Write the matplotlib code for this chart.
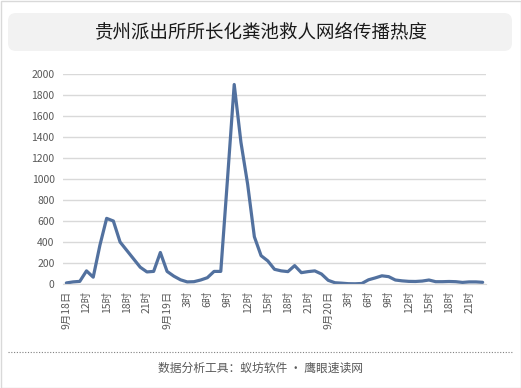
#hourly spread heat of the Guizhou police story, 9/18 9h -> 9/20 23h
import matplotlib
matplotlib.use('Agg')
import matplotlib.pyplot as plt
from matplotlib.patches import FancyBboxPatch, Rectangle
from matplotlib.lines import Line2D
from matplotlib.transforms import IdentityTransform

plt.rcParams['font.family'] = ['Noto Sans CJK SC', 'DejaVu Sans']

title = '贵州派出所所长化粪池救人网络传播热度'
footer = '数据分析工具：蚁坊软件 · 鹰眼速读网'

#one value per hour, 63 hours
heat = [10, 20, 25, 125, 65, 370, 625, 600, 400, 320, 240, 160, 115, 120, 300,
        120, 75, 40, 20, 22, 38, 60, 120, 120, 1000, 1900, 1350, 950, 450, 270,
        220, 140, 125, 118, 175, 108, 118, 125, 95, 35, 12, 8, 3, 2, 5,
        40, 58, 78, 70, 38, 30, 25, 24, 28, 38, 22, 22, 24, 22, 15,
        20, 20, 16]

tick_labels = ['9月18日', '12时', '15时', '18时', '21时',
               '9月19日', '3时', '6时', '9时', '12时', '15时', '18时', '21时',
               '9月20日', '3时', '6时', '9时', '12时', '15时', '18时', '21时']
y_ticks = list(range(0, 2001, 200))

W, H = 521, 388
fig = plt.figure(figsize=(W / 100, H / 100), dpi=100)

#outer border
fig.patches.append(Rectangle((0.5, 0.5), W - 1, H - 1, transform=IdentityTransform(),
                             facecolor='none', edgecolor='#d9d9d9', lw=1))
#title box
fig.patches.append(FancyBboxPatch((8, H - 51), 504, 38, boxstyle='round,pad=0,rounding_size=8',
                                  transform=IdentityTransform(), facecolor='#f2f2f2',
                                  edgecolor='none'))
fig.text(261 / W, 1 - 32 / H, title, ha='center', va='center', fontsize=13.3, color='#1a1a1a')

ax = fig.add_axes([63 / W, 1 - 284 / H, 423 / W, 210 / H])
x = list(range(len(heat)))
ax.plot(x, heat, color='#52719f', lw=2.3, solid_joinstyle='round', solid_capstyle='round')
ax.set_xlim(-0.5, len(heat) - 0.5)
ax.set_ylim(0, 2000)
ax.set_yticks(y_ticks)
ax.set_yticklabels([str(v) for v in y_ticks])
ax.set_xticks(x[::3])
ax.set_xticklabels(tick_labels, rotation=90, va='top', ha='center')
ax.tick_params(axis='both', length=0, labelsize=7.5, colors='#595959')
ax.tick_params(axis='y', pad=6)
ax.tick_params(axis='x', pad=5)
ax.grid(axis='y', color='#d9d9d9', lw=1)
ax.set_axisbelow(True)
for s in ['top', 'right', 'left']:
    ax.spines[s].set_visible(False)
ax.spines['bottom'].set_color('#d9d9d9')

#dotted separator and footer
fig.lines.append(Line2D([8, 512], [H - 352, H - 352], transform=IdentityTransform(),
                        color='#808080', lw=0.8, linestyle=(0, (1, 1.5))))
fig.text(261 / W, 1 - 368 / H, footer, ha='center', va='center', fontsize=8.5, color='#595959')

fig.savefig('out.png', dpi=100)
